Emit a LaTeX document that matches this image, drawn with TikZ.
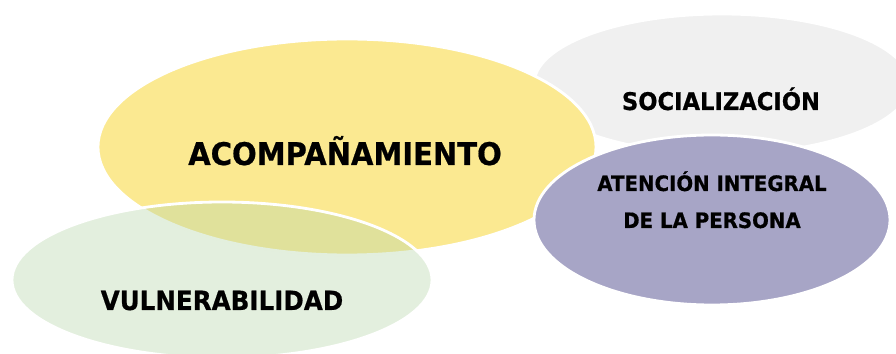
\documentclass[tikz,border=0pt]{standalone}
\usepackage{fontspec}
\setmainfont{DejaVu Sans}
\newfontfamily\bubblefont[FakeStretch=0.93, FakeBold=0.6]{DejaVu Sans}
\usetikzlibrary{positioning}

\definecolor{socgray}{RGB}{240,240,240}
\definecolor{acoyellow}{RGB}{251,233,145}
\definecolor{vulgreen}{RGB}{185,215,172}
\definecolor{atepurple}{RGB}{167,165,198}

\begin{document}
\begin{tikzpicture}[x=0.025cm, y=-0.025cm,
    bubble/.style={draw=white, line width=2pt},
    bubbletext/.style={anchor=base, font=\bubblefont\bfseries, inner sep=0pt}]
    \useasboundingbox (0,0) rectangle (896,354);

    % Draw the bubbles
    \filldraw[bubble, fill=socgray] (722,84) ellipse [x radius=188, y radius=70];
    \filldraw[bubble, fill=acoyellow] (347,147) ellipse [x radius=249, y radius=108];
    \filldraw[bubble, fill=atepurple] (712,220) ellipse [x radius=178, y radius=85];
    \filldraw[bubble, fill=vulgreen, fill opacity=0.4] (222,280) ellipse [x radius=210, y radius=78];

    % Add the texts
    \node[bubbletext] (soc) at (721,110) {\fontsize{17.3}{20}\selectfont SOCIALIZACIÓN};
    \node[bubbletext] (aco) at (345,165) {\fontsize{22.2}{26}\selectfont ACOMPAÑAMIENTO};
    \node[bubbletext] (ate1) at (712,191) {\fontsize{15.1}{18}\selectfont ATENCIÓN INTEGRAL};
    \node[bubbletext] (ate2) at (712,228) {\fontsize{15.1}{18}\selectfont DE LA PERSONA};
    \node[bubbletext] (vul) at (222,310) {\fontsize{18.8}{22}\selectfont VULNERABILIDAD};
\end{tikzpicture}
\end{document}
